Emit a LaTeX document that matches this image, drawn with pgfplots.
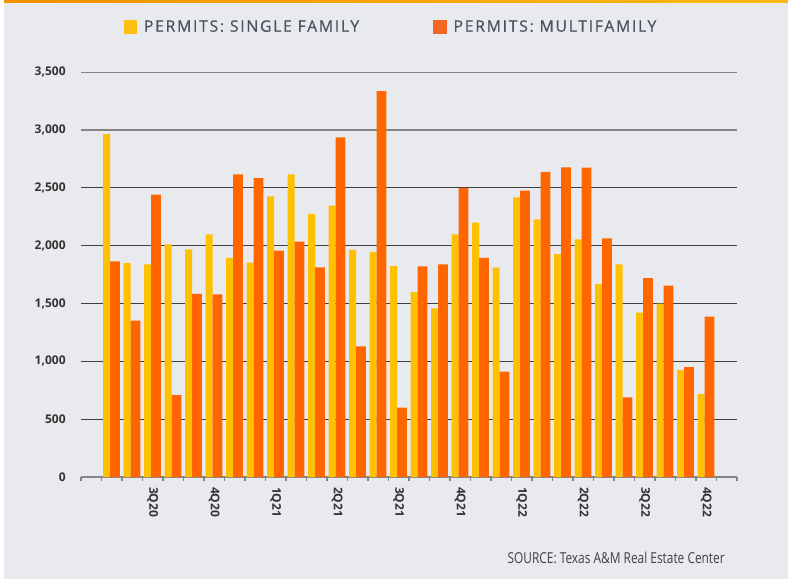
\documentclass[border=0pt]{standalone}
\usepackage{fontspec}
\setmainfont{Open Sans}
\usepackage{pgfplots}
\usepackage{pgfplotstable}
\pgfplotsset{compat=1.18}
\definecolor{bgc}{HTML}{E9EAEE}
\definecolor{ycol}{HTML}{FFC000}
\definecolor{ocol}{HTML}{FF6600}
\definecolor{lyc}{HTML}{FDC010}
\definecolor{loc}{HTML}{F26522}
\definecolor{legtxt}{HTML}{4A5461}
\definecolor{lab}{HTML}{333333}
\definecolor{gridd}{HTML}{3F3F3F}
\definecolor{gridl}{HTML}{858585}

\pgfplotstableread{
x s m
1 2965 1864
2 1850 1353
3 1838 2443
4 2011 708
5 1968 1584
6 2098 1580
7 1896 2618
8 1855 2584
9 2428 1959
10 2618 2035
11 2275 1812
12 2348 2937
13 1965 1130
14 1948 3338
15 1824 601
16 1600 1821
17 1459 1839
18 2098 2500
19 2200 1896
20 1810 911
21 2419 2477
22 2229 2638
23 1928 2678
24 2055 2676
25 1670 2064
26 1839 688
27 1422 1721
28 1500 1656
29 925 951
30 716 1388
}\data

\begin{document}
\begin{tikzpicture}[x=0.75pt,y=0.75pt]
\useasboundingbox (0,0) rectangle (788,579);
\fill[bgc] (0,0) rectangle (788,579);
\fill[white] (0,0) rectangle (4,579);
\shade[left color={rgb,255:red,243;green,146;blue,0}, right color={rgb,255:red,253;green,185;blue,19}] (4,576.5) rectangle (788,579);
\begin{axis}[
  at={(68.4375pt,76.5pt)}, anchor=origin,
  scale only axis, width=492pt, height=303.5pt,
  xmin=-0.5, xmax=31.5, ymin=0, ymax=3500,
  axis lines*=left,
  y axis line style={draw=none},
  x axis line style={draw=gridl, line width=0.8pt},
  xtick={3,6,...,30},
  xticklabels={3Q20,4Q20,1Q21,2Q21,3Q21,4Q21,1Q22,2Q22,3Q22,4Q22},
  minor xtick={-0.5,0.5,...,31.5},
  major tick length=0pt,
  minor tick length=3pt,
  tick align=outside,
  minor x tick style={draw=gridl, line width=0.8pt},
  xticklabel style={rotate=-90, anchor=west, font=\fontsize{9}{10}\selectfont\bfseries, text=lab},
  xticklabel shift=4pt,
  ytick={0,500,...,2500},
  yticklabels={0,500,{1,000},{1,500},{2,000},{2,500}},
  extra y ticks={3000,3500},
  extra y tick labels={{3,000},{3,500}},
  extra y tick style={grid style={draw=gridl, line width=1.1pt}},
  yticklabel style={font=\fontsize{9}{10}\selectfont\bfseries, text=lab},
  yticklabel shift=8pt,
  ymajorgrids,
  grid style={draw=gridd, line width=0.8pt},
  clip=false,
  legend columns=2,
  legend style={at={(0.473,1.112)}, anchor=center, draw=none, fill=none,
    font=\fontsize{11.8}{13}\selectfont\addfontfeature{LetterSpace=11,FakeBold=0.6}, text=legtxt,
    /tikz/every even column/.append style={column sep=53.5pt},
    /tikz/every odd column/.append style={column sep=0pt}},
]
\addplot[ybar, bar width=0.34, bar shift=-0.25, fill=ycol, draw=none,
  legend image code/.code={\fill[lyc] (0pt,-5.2pt) rectangle (10.3pt,5.3pt); \path (13.3pt,0pt);}]
  table[x=x, y=s] {\data};
\addlegendentry{PERMITS: SINGLE FAMILY}
\addplot[ybar, bar width=0.48, bar shift=0.16, fill=ocol, draw=none,
  legend image code/.code={\fill[loc] (0pt,-5.2pt) rectangle (10.3pt,5.3pt); \path (13.3pt,0pt);}]
  table[x=x, y=m] {\data};
\addlegendentry{PERMITS: MULTIFAMILY}
\end{axis}
\node[anchor=base east, inner sep=0pt, text={rgb,255:red,64;green,64;blue,64},
  font=\fontsize{11.3}{13}\selectfont\addfontfeature{FakeStretch=0.79}] at (725,16) {SOURCE: Texas A\&M Real Estate Center};
\end{tikzpicture}
\end{document}
